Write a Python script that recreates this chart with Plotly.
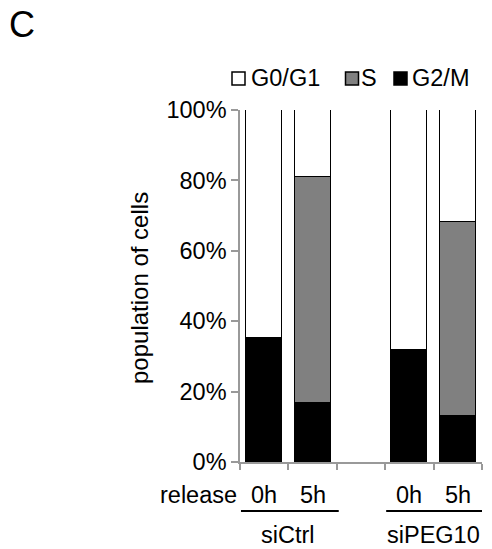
import plotly.graph_objects as go

# data
positions = [0, 1, 3, 4]          # category slots (slot 2 is the gap)
time_labels = ["0h", "5h", "0h", "5h"]
groups = ["siCtrl", "siPEG10"]
g2m = [35.2, 16.8, 31.8, 13.1]
s_phase = [0.0, 64.2, 0.0, 55.1]
g0g1 = [64.8, 19.0, 68.2, 31.8]
y_ticks = [0, 20, 40, 60, 80, 100]
y_tick_labels = ["0%", "20%", "40%", "60%", "80%", "100%"]
legend_names = ["G0/G1", "S", "G2/M"]
legend_colors = ["white", "#808080", "black"]

FONT = "Liberation Sans, Arial, sans-serif"
FS = 23.5

# plot area in pixels (for converting legend placement to paper coords)
L, R, T, B = 240, 10, 110, 87
W, H = 492, 549
PW, PH = W - L - R, H - T - B


def px(x):
    return (x - L) / PW


def py(y):
    return (H - B - y) / PH


fig = go.Figure()
line = dict(color="black", width=1.5)
fig.add_trace(go.Bar(x=positions, y=g2m, name="G2/M", marker=dict(color="black", line=line), width=0.74))
fig.add_trace(go.Bar(x=positions, y=s_phase, name="S", marker=dict(color="#808080", line=line), width=0.74))
fig.add_trace(go.Bar(x=positions, y=g0g1, name="G0/G1", marker=dict(color="white", line=line), width=0.74))

annotations = []
shapes = []
tfont = dict(size=FS, color="black", family=FONT)
for xp, t in zip(positions, time_labels):
    annotations.append(dict(x=xp, y=py(495), xref="x", yref="paper", text=t, showarrow=False,
                            xanchor="center", yanchor="middle", font=tfont))
annotations.append(dict(x=-0.5, y=py(495), xref="x", yref="paper", text="release", showarrow=False,
                        xanchor="right", yanchor="middle", xshift=-1, font=tfont))
for gx, g in zip([0.5, 3.5], groups):
    annotations.append(dict(x=gx, y=py(535), xref="x", yref="paper", text=g, showarrow=False,
                            xanchor="center", yanchor="middle", font=tfont))
annotations.append(dict(x=px(139), y=py(288), xref="paper", yref="paper", text="population of cells",
                        showarrow=False, textangle=-90, xanchor="center", yanchor="middle",
                        font=dict(size=24, color="black", family=FONT)))
annotations.append(dict(x=px(7), y=py(2), xref="paper", yref="paper", text="C", showarrow=False,
                        xanchor="left", yanchor="top", font=dict(size=36, color="black", family=FONT)))

# manual legend
sq_centers = [238.5, 352, 400.5]
text_left = [249, 359, 410]
for name, col, cx, tx in zip(legend_names, legend_colors, sq_centers, text_left):
    shapes.append(dict(type="rect", xref="paper", yref="paper", x0=px(cx - 6.5), x1=px(cx + 6.5),
                       y0=py(85), y1=py(72), fillcolor=col, line=dict(color="black", width=1.5)))
    annotations.append(dict(x=px(tx), y=py(78), xref="paper", yref="paper", text=name, showarrow=False,
                            xanchor="left", yanchor="middle", font=tfont))

for x0, x1 in [(-0.5, 1.5), (2.5, 4.5)]:
    shapes.append(dict(type="line", x0=x0 + 0.02, x1=x1 + 0.04, y0=py(511), y1=py(511), xref="x", yref="paper",
                       line=dict(color="black", width=2)))

fig.update_layout(
    barmode="stack",
    width=W, height=H,
    margin=dict(l=L, r=R, t=T, b=B),
    paper_bgcolor="white", plot_bgcolor="white",
    font=dict(family=FONT, size=FS, color="black"),
    showlegend=False,
    annotations=annotations,
    shapes=shapes,
    xaxis=dict(range=[-0.5, 4.5], tickvals=[-0.5, 0.5, 1.5, 2.5, 3.5, 4.5], showticklabels=False,
               ticks="outside", ticklen=6, tickcolor="#999999", tickwidth=1.5,
               showline=True, linecolor="#999999", linewidth=1.5, showgrid=False, zeroline=False),
    yaxis=dict(range=[0, 100], tickvals=y_ticks, ticktext=y_tick_labels, ticks="outside", ticklen=7,
               tickcolor="#999999", tickwidth=1.5, showline=True, linecolor="#999999", linewidth=1.5,
               showgrid=False, zeroline=False, tickfont=tfont),
    bargap=0,
)

fig.write_html(
    "out.html",
    config={"displayModeBar": False},
    post_script="document.body.style.margin='0';document.body.style.overflow='hidden';",
)
